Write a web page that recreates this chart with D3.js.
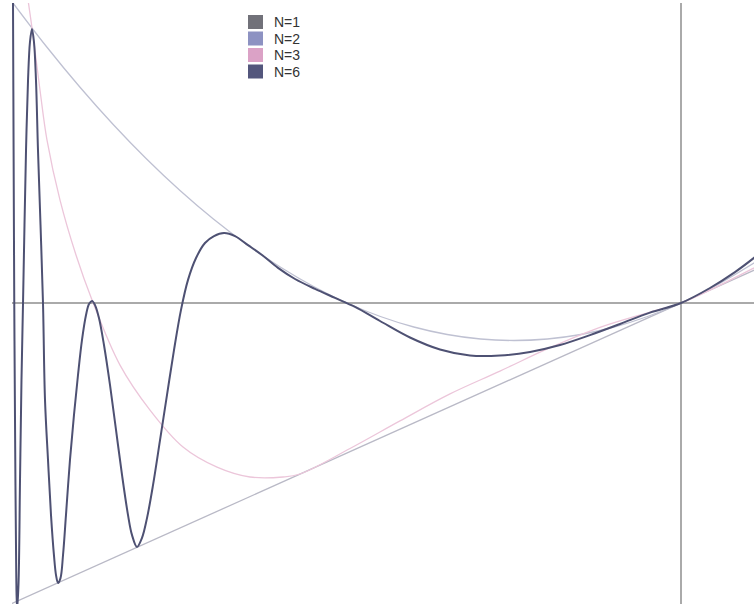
<!DOCTYPE html>
<html><head><meta charset="utf-8">
<script src="https://cdn.jsdelivr.net/npm/d3@7"></script>
<style>body{margin:0;background:#fff;overflow:hidden}</style>
</head><body>
<svg id="c" width="754" height="604"></svg>
<script>
// Legend / series
const seriesNames = ["N=1", "N=2", "N=3", "N=6"];
const seriesColors = ["#717179", "#8d92c2", "#dba2c6", "#53567c"];

// N=1 (straight line)
const n1X = [-1.02, 0.12];
const n1Y = [-1.02, 0.12];

// N=2 (upper curve)
const n2X = [-1.0, -0.95, -0.9, -0.85, -0.8, -0.75, -0.7, -0.65, -0.6, -0.55, -0.5, -0.45, -0.4, -0.35, -0.3, -0.25, -0.2, -0.15, -0.1, -0.05, 0, 0.05, 0.11];
const n2Y = [1.0, 0.855, 0.72, 0.595, 0.48, 0.375, 0.28, 0.195, 0.12, 0.055, 0.0, -0.045, -0.08, -0.105, -0.12, -0.125, -0.12, -0.105, -0.08, -0.045, 0.0, 0.055, 0.134];

// N=3 (pink curve)
const n3X = [-0.9775, -0.9701, -0.9596, -0.9491, -0.9296, -0.9057, -0.8817, -0.8398, -0.7949, -0.7455, -0.6946, -0.6452, -0.5958, -0.5704, -0.4955, -0.4207, -0.3458, -0.271, -0.1961, -0.1213, -0.0464, 0, 0.1093];
const n3Y = [1.01, 0.893, 0.71, 0.543, 0.343, 0.16, 0.01, -0.207, -0.357, -0.48, -0.547, -0.58, -0.58, -0.57, -0.485, -0.393, -0.303, -0.227, -0.149, -0.081, -0.03, 0, 0.117];

// N=6 (dark oscillating curve)
const n6X = [-1.0, -0.9991, -0.9981, -0.9967, -0.9952, -0.994, -0.9918, -0.9895, -0.9873, -0.985, -0.9828, -0.9805, -0.9775, -0.9746, -0.9716, -0.9686, -0.9656, -0.9626, -0.9588, -0.9551, -0.9521, -0.9476, -0.9431, -0.9386, -0.9356, -0.9326, -0.9289, -0.9251, -0.9207, -0.9147, -0.9087, -0.9027, -0.8967, -0.8907, -0.8862, -0.8817, -0.8772, -0.8713, -0.8638, -0.8548, -0.8458, -0.8368, -0.8278, -0.8219, -0.8144, -0.8069, -0.7994, -0.7904, -0.7799, -0.7695, -0.759, -0.7485, -0.738, -0.726, -0.7126, -0.6991, -0.6841, -0.6677, -0.6482, -0.6272, -0.6033, -0.5778, -0.5479, -0.518, -0.488, -0.4506, -0.4057, -0.3608, -0.3159, -0.271, -0.226, -0.1811, -0.1362, -0.0913, -0.0464, 0, 0.0434, 0.0808, 0.1108];
const n6Y = [1.0, 0.51, 0.0, -0.49, -0.89, -1.023, -0.94, -0.59, -0.257, 0.0, 0.26, 0.51, 0.743, 0.87, 0.913, 0.87, 0.743, 0.51, 0.26, 0.0, -0.323, -0.523, -0.707, -0.843, -0.907, -0.933, -0.917, -0.84, -0.707, -0.523, -0.373, -0.24, -0.123, -0.04, -0.003, 0.007, -0.007, -0.05, -0.14, -0.273, -0.423, -0.573, -0.707, -0.773, -0.813, -0.783, -0.717, -0.607, -0.457, -0.307, -0.157, -0.023, 0.077, 0.15, 0.2, 0.223, 0.233, 0.223, 0.193, 0.16, 0.117, 0.08, 0.047, 0.017, -0.013, -0.06, -0.115, -0.155, -0.175, -0.175, -0.163, -0.14, -0.107, -0.07, -0.032, 0.0, 0.05, 0.103, 0.153];

const svg = d3.select("#c");
const x = d3.scaleLinear().domain([-1, 0]).range([13, 681]);
const y = d3.scaleLinear().domain([-1, 1]).range([603, 3]);

svg.append("defs").append("clipPath").attr("id", "plot")
  .append("rect").attr("x", 12).attr("y", 3).attr("width", 742).attr("height", 601);

const g = svg.append("g").attr("clip-path", "url(#plot)");

// axes through origin
g.append("line").attr("x1", 12).attr("x2", 754).attr("y1", y(0)).attr("y2", y(0))
  .attr("stroke", "#aaaaaa").attr("stroke-width", 1.8);
g.append("line").attr("x1", x(0)).attr("x2", x(0)).attr("y1", 3).attr("y2", 604)
  .attr("stroke", "#aaaaaa").attr("stroke-width", 2);

const zip = (xs, ys) => xs.map((v, i) => [v, ys[i]]);
const line = d3.line().x(d => x(d[0])).y(d => y(d[1])).curve(d3.curveCatmullRom.alpha(0.5));

const series = [
  {data: zip(n1X, n1Y), color: "#b9b9c6", w: 1.3},
  {data: zip(n2X, n2Y), color: "#bfc1d2", w: 1.3},
  {data: zip(n3X, n3Y), color: "#ecc6da", w: 1.3},
  {data: zip(n6X, n6Y), color: "#4e5173", w: 2}
];
series.forEach(s => {
  g.append("path").datum(s.data).attr("d", line)
    .attr("fill", "none").attr("stroke", s.color).attr("stroke-width", s.w);
});

// legend
const lg = svg.append("g").attr("transform", "translate(248,15)");
seriesNames.forEach((n, i) => {
  const row = lg.append("g").attr("transform", `translate(0,${i * 16.5})`);
  row.append("rect").attr("width", 15).attr("height", 14).attr("fill", seriesColors[i]);
  row.append("text").attr("x", 26).attr("y", 12).text(n)
    .attr("font-family", "Liberation Sans, Arial, sans-serif").attr("font-size", 14).attr("fill", "#333");
});
</script>
</body></html>
